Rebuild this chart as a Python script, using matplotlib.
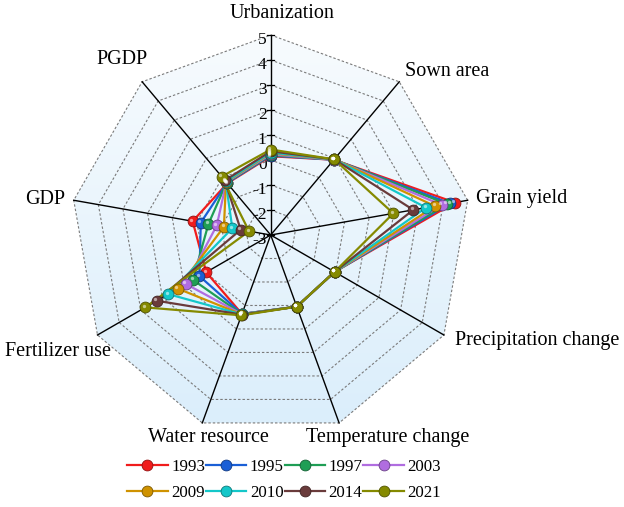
import numpy as np
import matplotlib
matplotlib.use("Agg")
import matplotlib.pyplot as plt
from matplotlib.patches import Polygon
from matplotlib.colors import LinearSegmentedColormap, to_rgb
from matplotlib.lines import Line2D
import matplotlib.transforms as mtransforms

plt.rcParams['font.family'] = ['Liberation Serif', 'DejaVu Serif']

# ---------------- data ----------------
indicators = ["Urbanization", "Sown area", "Grain yield", "Precipitation change",
              "Temperature change", "Water resource", "Fertilizer use", "GDP", "PGDP"]
years = ["1993", "1995", "1997", "2003", "2009", "2010", "2014", "2021"]

v1993 = [0.15, 0.93, 4.48, -0.05, 0.05, 0.36, -0.02, 0.17, -0.30]
v1995 = [0.18, 0.93, 4.28, -0.05, 0.05, 0.36, 0.29, -0.16, -0.28]
v1997 = [0.20, 0.94, 4.15, -0.05, 0.05, 0.37, 0.59, -0.47, -0.26]
v2003 = [0.23, 0.94, 3.94, -0.05, 0.05, 0.37, 0.92, -0.81, -0.24]
v2009 = [0.27, 0.95, 3.67, -0.05, 0.05, 0.38, 1.29, -1.10, -0.22]
v2010 = [0.30, 0.95, 3.31, -0.05, 0.05, 0.38, 1.73, -1.44, -0.20]
v2014 = [0.35, 0.95, 2.79, -0.05, 0.05, 0.39, 2.26, -1.78, -0.15]
v2021 = [0.42, 0.95, 1.98, -0.05, 0.05, 0.42, 2.79, -2.12, 0.05]
series = [v1993, v1995, v1997, v2003, v2009, v2010, v2014, v2021]

r_ticks = [-3, -2, -1, 0, 1, 2, 3, 4, 5]
r_min, r_max = -3, 5

colors = ["#f01c1c", "#1a5fd6", "#1f9e55", "#b06de0", "#cf9200", "#14c7c9", "#6a3b3b", "#858a00"]

# ---------------- layout ----------------
W, H = 624, 507
CX, CY, PPU = 270.7, 235.0, 25.0   # centre pixel and pixels per unit

fig = plt.figure(figsize=(W / 100, H / 100), dpi=100)
ax = fig.add_axes([0, 0, 1, 1])
ax.set_xlim(-CX / PPU, (W - CX) / PPU)
ax.set_ylim((CY - H) / PPU, CY / PPU)
ax.axis("off")

def px(x, y):
    return (x - CX) / PPU, (CY - y) / PPU

n = len(indicators)
theta = np.deg2rad(90 - 360.0 / n * np.arange(n))

def to_xy(vals):
    r = np.asarray(vals, float) - r_min
    return r * np.cos(theta), r * np.sin(theta)

R = r_max - r_min
outer = np.column_stack([R * np.cos(theta), R * np.sin(theta)])

# gradient background inside outer nonagon
cmap = LinearSegmentedColormap.from_list("bg", ["#f7fbfe", "#dbeefb"])
grad = np.linspace(0, 1, 256).reshape(-1, 1)
im = ax.imshow(grad, cmap=cmap, aspect="auto",
               extent=[-R, R, -R * np.cos(np.pi / n), R], origin="upper", zorder=0)
clip = Polygon(outer, closed=True, transform=ax.transData, facecolor="none", edgecolor="none")
ax.add_patch(clip)
im.set_clip_path(clip)

# grid rings
for t in r_ticks[1:]:
    rr = t - r_min
    ring = np.vstack([np.column_stack([rr * np.cos(theta), rr * np.sin(theta)]),
                      [rr * np.cos(theta[0]), rr * np.sin(theta[0])]])
    ax.plot(ring[:, 0], ring[:, 1], color="#7a7a7a", lw=0.8, ls=(0, (2.2, 1.8)), zorder=1)

# spokes
for k in range(n):
    ax.plot([0, outer[k, 0]], [0, outer[k, 1]], color="black", lw=1.0, zorder=2)

# ticks on first axis
for t in r_ticks:
    rr = t - r_min
    ax.plot([-3.5 / PPU, 3.5 / PPU], [rr, rr], color="black", lw=0.9, zorder=2)
    ax.text(-4.0 / PPU, rr - 5 / PPU, str(t), ha="right", va="center", fontsize=12.5, zorder=3)

# series
hl = mtransforms.offset_copy(ax.transData, fig=fig, x=-1.4, y=1.6, units="dots")
for vals, c in zip(series, colors):
    x, y = to_xy(vals)
    x = np.append(x, x[0]); y = np.append(y, y[0])
    dark = tuple(np.array(to_rgb(c)) * 0.6)
    ax.plot(x, y, color=c, lw=1.6, zorder=4)
    ax.plot(x[:-1], y[:-1], ls="none", marker="o", ms=7.8, mfc=c, mec=dark, mew=0.6, zorder=5)
    ax.plot(x[:-1], y[:-1], ls="none", marker="o", ms=2.4, mfc="white", mec="none",
            alpha=0.55, transform=hl, zorder=6)

# indicator labels
label_pos = [(282, 14, "center"), (405, 71, "left"), (476, 199, "left"), (455, 341, "left"),
             (388, 438, "center"), (208, 437, "center"), (5, 352, "left"), (25, 199, "left"),
             (96, 60, "left")]
for name, (lx, ly, ha) in zip(indicators, label_pos):
    dx, dy = px(lx, ly)
    ax.text(dx, dy, name, ha=ha, va="center", fontsize=14.5, zorder=3)

# legend (row-wise order)
handles = []
for c in colors:
    dark = tuple(np.array(to_rgb(c)) * 0.6)
    handles.append(Line2D([], [], color=c, lw=1.6, marker="o", ms=7.8, mfc=c, mec=dark, mew=0.6))
ncol = 4
order = [i * ncol + j for j in range(ncol) for i in range(len(years) // ncol)]
fig.legend([handles[i] for i in order], [years[i] for i in order], ncol=ncol,
           loc="upper left", bbox_to_anchor=(127 / W, 1 - 459 / H),
           frameon=False, fontsize=12.2, handlelength=2.4, handletextpad=0.2,
           columnspacing=0.05, borderpad=0, borderaxespad=0, labelspacing=0.6)

fig.savefig("out.png", dpi=100)
